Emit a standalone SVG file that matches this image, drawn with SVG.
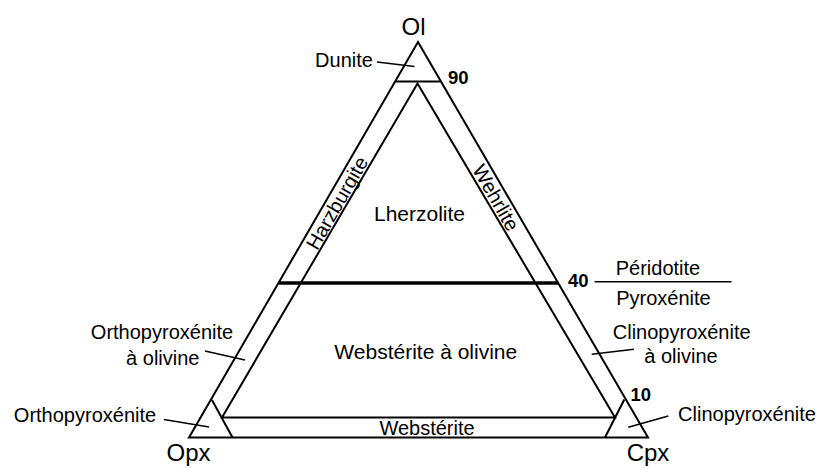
<svg xmlns="http://www.w3.org/2000/svg" width="824" height="468" viewBox="0 0 824 468">
<style>
.ln{stroke:#000;stroke-width:2;fill:none;stroke-linejoin:miter}
.thk{stroke:#000;stroke-width:3.5;fill:none}
.ld{stroke:#000;stroke-width:1.6;fill:none}
text{font-family:"Liberation Sans",Arial,sans-serif;fill:#000}
.lb{font-size:20px}
.big{font-size:21px}
.ap{font-size:24px}
.num{font-size:18.5px;font-weight:bold}
</style>
<rect width="824" height="468" fill="#fff"/>
<g id="frame">
<polygon class="ln" points="418,42 189,437.5 648,437.5"/>
<polygon class="ln" points="417.5,83.5 222,417.5 615,417.5"/>
<line class="ln" x1="395.5" y1="81.5" x2="440.5" y2="81.5"/>
<line class="ln" x1="212" y1="400" x2="232.5" y2="437.5"/>
<line class="ln" x1="624.3" y1="399.5" x2="605" y2="437.5"/>
<line class="thk" x1="278.8" y1="283" x2="558.2" y2="283"/>
<line class="ld" x1="594.5" y1="281.7" x2="731.5" y2="281.7"/>
</g>
<g id="connectors">
<line class="ld" x1="377" y1="62" x2="414.5" y2="66.5"/>
<line class="ld" x1="205" y1="351" x2="245" y2="360"/>
<line class="ld" x1="164" y1="419.5" x2="209" y2="427"/>
<line class="ld" x1="591.7" y1="354.3" x2="634" y2="349.3"/>
<line class="ld" x1="628.3" y1="427.3" x2="668.3" y2="416"/>
</g>
<g id="apex-ol"><text class="ap" x="413.5" y="34.5" text-anchor="middle">Ol</text></g>
<g id="apex-opx"><text class="ap" x="188.5" y="461" text-anchor="middle">Opx</text></g>
<g id="apex-cpx"><text class="ap" x="648" y="461" text-anchor="middle">Cpx</text></g>
<g id="tick-90"><text class="num" x="448" y="83.5">90</text></g>
<g id="tick-40"><text class="num" x="568" y="287.3">40</text></g>
<g id="tick-10"><text class="num" x="630.5" y="400.5">10</text></g>
<g id="dunite"><text class="lb" x="344" y="66.5" text-anchor="middle">Dunite</text></g>
<g id="harzburgite"><text class="lb" transform="translate(337,203) rotate(-60)" x="0" y="7" text-anchor="middle">Harzburgite</text></g>
<g id="wehrlite"><text class="lb" transform="translate(496,197.5) rotate(60)" x="0" y="7" text-anchor="middle">Wehrlite</text></g>
<g id="lherzolite"><text class="big" x="419.5" y="221" text-anchor="middle">Lherzolite</text></g>
<g id="peridotite-pyroxenite">
<text class="lb" x="658" y="274.5" text-anchor="middle">Péridotite</text>
<text class="lb" x="663.5" y="305" text-anchor="middle">Pyroxénite</text>
</g>
<g id="websterite-olivine"><text class="big" x="425.8" y="359" text-anchor="middle">Webstérite à olivine</text></g>
<g id="websterite"><text class="lb" x="427" y="434.5" text-anchor="middle">Webstérite</text></g>
<g id="orthopyroxenite-olivine">
<text class="lb" x="162" y="339.3" text-anchor="middle">Orthopyroxénite</text>
<text class="lb" x="162.8" y="365" text-anchor="middle">à olivine</text>
</g>
<g id="orthopyroxenite"><text class="lb" x="85" y="421.7" text-anchor="middle">Orthopyroxénite</text></g>
<g id="clinopyroxenite-olivine">
<text class="lb" x="681.7" y="339.3" text-anchor="middle">Clinopyroxénite</text>
<text class="lb" x="681" y="363.3" text-anchor="middle">à olivine</text>
</g>
<g id="clinopyroxenite"><text class="lb" x="747" y="421" text-anchor="middle">Clinopyroxénite</text></g>
</svg>
